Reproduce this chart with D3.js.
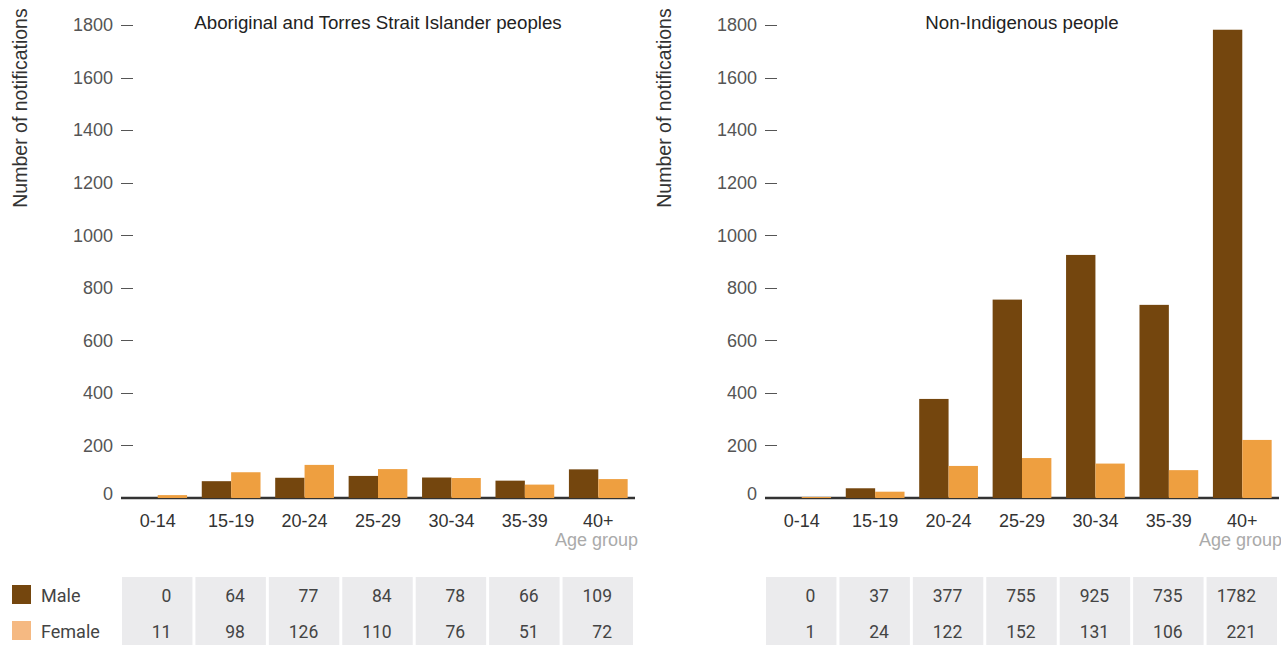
<!DOCTYPE html>
<html>
<head>
<meta charset="utf-8">
<script src="https://cdn.jsdelivr.net/npm/d3@7"></script>
<style>
  body { margin: 0; background: #fff; }
  svg { display: block; }
</style>
</head>
<body>
<svg id="chart" width="1281" height="645"></svg>
<script>
// data
var ageGroups = ["0-14", "15-19", "20-24", "25-29", "30-34", "35-39", "40+"];
var seriesNames = ["Male", "Female"];
var indigenousMale = [0, 64, 77, 84, 78, 66, 109];
var indigenousFemale = [11, 98, 126, 110, 76, 51, 72];
var nonIndigenousMale = [0, 37, 377, 755, 925, 735, 1782];
var nonIndigenousFemale = [1, 24, 122, 152, 131, 106, 221];
var yTicks = [0, 200, 400, 600, 800, 1000, 1200, 1400, 1600, 1800];

var panels = [
  { title: "Aboriginal and Torres Strait Islander peoples", male: indigenousMale, female: indigenousFemale, x0: 121, legend: true },
  { title: "Non-Indigenous people", male: nonIndigenousMale, female: nonIndigenousFemale, x0: 765, legend: false }
];

var plotWidth = 514;
var maleColour = "#74460e";
var femaleColour = "#ee9f40";
var femaleLegendColour = "#f5b982";
var svg = d3.select("#chart");

var y = d3.scaleLinear().domain([0, 1800]).range([498, 25]);

panels.forEach(function (p) {
  var g = svg.append("g");
  var x = d3.scaleBand()
    .domain(ageGroups)
    .range([p.x0, p.x0 + plotWidth])
    .paddingInner(0.2)
    .paddingOuter(0.1);
  var xs = d3.scaleBand().domain(seriesNames).range([0, x.bandwidth()]);

  // y axis title
  g.append("text")
    .attr("transform", "translate(" + (p.x0 - 101) + ",108) rotate(-90)")
    .attr("text-anchor", "middle")
    .attr("dy", "0.35em")
    .style("font", "19.5px 'Liberation Sans', Arial, sans-serif")
    .style("fill", "#333")
    .text("Number of notifications");

  // y ticks
  var ticks = g.append("g");
  ticks.selectAll("line")
    .data(yTicks.filter(function (d) { return d > 0; }))
    .join("line")
    .attr("x1", p.x0)
    .attr("x2", p.x0 + 12)
    .attr("y1", function (d) { return Math.round(y(d)) + 0.5; })
    .attr("y2", function (d) { return Math.round(y(d)) + 0.5; })
    .style("stroke", "#555")
    .style("stroke-width", 1);
  ticks.selectAll("text")
    .data(yTicks)
    .join("text")
    .attr("x", p.x0 - 8)
    .attr("y", function (d) { return d === 0 ? y(d) - 4 : y(d); })
    .attr("dy", "0.35em")
    .attr("text-anchor", "end")
    .style("font", "18px 'Liberation Sans', Arial, sans-serif")
    .style("fill", "#555")
    .text(function (d) { return d; });

  // title
  g.append("text")
    .attr("x", p.x0 + plotWidth / 2)
    .attr("y", 22)
    .attr("dy", "0.35em")
    .attr("text-anchor", "middle")
    .style("font", "18.7px 'Liberation Sans', Arial, sans-serif")
    .style("fill", "#222")
    .text(p.title);

  // baseline
  g.append("line")
    .attr("x1", p.x0)
    .attr("x2", p.x0 + plotWidth)
    .attr("y1", y(0))
    .attr("y2", y(0))
    .style("stroke", "#333")
    .style("stroke-width", 2.5);

  // bars
  var rows = ageGroups.map(function (a, i) {
    return { age: a, Male: p.male[i], Female: p.female[i] };
  });
  var groups = g.append("g").selectAll("g")
    .data(rows)
    .join("g")
    .attr("transform", function (d) { return "translate(" + x(d.age) + ",0)"; });
  groups.selectAll("rect")
    .data(function (d) {
      return seriesNames.map(function (s) { return { key: s, value: d[s] }; });
    })
    .join("rect")
    .attr("x", function (d) { return xs(d.key); })
    .attr("width", xs.bandwidth())
    .attr("y", function (d) { return Math.min(y(d.value), y(0) - 1); })
    .attr("height", function (d) { return Math.max(y(0) - y(d.value), 1); })
    .style("fill", function (d) { return d.key === "Male" ? maleColour : femaleColour; })
    .style("opacity", function (d) { return d.value === 0 ? 0 : 1; });

  // category labels
  g.append("g").selectAll("text")
    .data(ageGroups)
    .join("text")
    .attr("x", function (d) { return x(d) + x.bandwidth() / 2; })
    .attr("y", 521)
    .attr("dy", "0.35em")
    .attr("text-anchor", "middle")
    .style("font", "18px 'Liberation Sans', Arial, sans-serif")
    .style("fill", "#333")
    .text(function (d) { return d; });

  g.append("text")
    .attr("x", p.x0 + plotWidth + 3)
    .attr("y", 540)
    .attr("dy", "0.35em")
    .attr("text-anchor", "end")
    .style("font", "18px 'Liberation Sans', Arial, sans-serif")
    .style("fill", "#aaa")
    .text("Age group");

  // data table
  var step = x.step();
  var table = g.append("g");
  table.selectAll("rect")
    .data(ageGroups)
    .join("rect")
    .attr("x", function (d, i) { return p.x0 + i * step + 1; })
    .attr("y", 577)
    .attr("width", step - 3)
    .attr("height", 68)
    .style("fill", "#ebebed");
  [p.male, p.female].forEach(function (vals, r) {
    table.append("g").selectAll("text")
      .data(vals)
      .join("text")
      .attr("x", function (d, i) { return p.x0 + (i + 1) * step - 23; })
      .attr("y", 596 + r * 36)
      .attr("dy", "0.35em")
      .attr("text-anchor", "end")
      .style("font", "17.5px Roboto, sans-serif")
      .style("fill", "#444")
      .text(function (d) { return d; });
  });

  if (p.legend) {
    var leg = g.append("g");
    seriesNames.forEach(function (s, i) {
      leg.append("rect")
        .attr("x", 12)
        .attr("y", 585 + i * 36)
        .attr("width", 19)
        .attr("height", 19)
        .style("fill", s === "Male" ? maleColour : femaleLegendColour);
      leg.append("text")
        .attr("x", 41)
        .attr("y", 596 + i * 36)
        .attr("dy", "0.35em")
        .style("font", "18px Roboto, sans-serif")
        .style("fill", "#444")
        .text(s);
    });
  }
});
</script>
</body>
</html>
